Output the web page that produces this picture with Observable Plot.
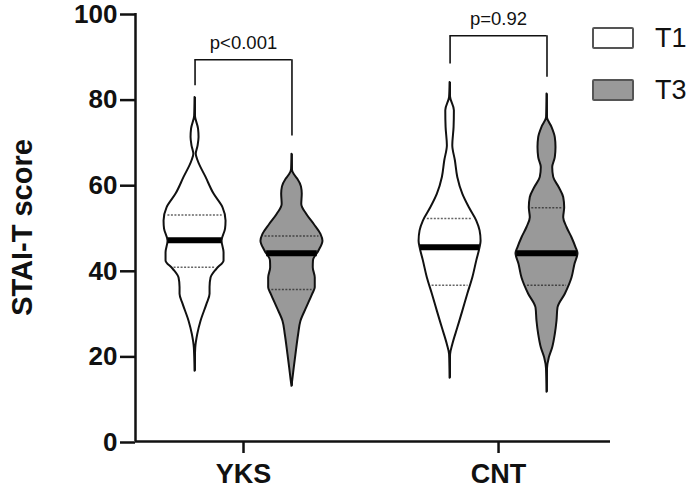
<!DOCTYPE html>
<html><head><meta charset="utf-8">
<script src="https://cdn.jsdelivr.net/npm/d3@7"></script>
<script src="https://cdn.jsdelivr.net/npm/@observablehq/plot@0.6"></script>
<style>
body{margin:0;background:#fff;font-family:"Liberation Sans",Arial,Helvetica,sans-serif;}
#wrap{position:relative;width:690px;height:489px;}
#wrap svg{overflow:visible;}
#legend{position:absolute;left:592px;top:27px;}
.item{display:flex;align-items:center;height:22px;margin-bottom:30px;}
.sw{width:38px;height:18px;border:2px solid #555;border-radius:2px;box-sizing:content-box;}
.lab{margin-left:21px;font-size:27px;color:#111;line-height:22px;}
</style></head><body><div id="wrap"></div>
<script>
// ---- data ----
const groups = ["YKS", "CNT"];
const times = ["T1", "T3"];
const timeFills = ["#ffffff", "#999999"];
const yTicks = [0, 20, 40, 60, 80, 100];

// violin outlines: score levels and half-width (relative density)
const yksT1Score   = [80.4, 76, 73, 71, 69, 67.1, 65.6, 61.7, 57.8, 54.6, 51.5, 49.6, 46.8, 44.1, 42.2, 40.3, 38.2, 36, 34.4, 32.1, 28.1, 25, 21.8, 16.4];
const yksT1Density = [0, 0.4, 3.5, 4, 3, 1.2, 3, 11, 19, 28, 31, 30.5, 27, 29, 29, 22, 16, 15, 15, 12, 6, 2.7, 0.7, 0];
const yksT3Score   = [67.1, 63.5, 62.3, 61.2, 59.5, 57.8, 55.4, 53.1, 50.7, 48.4, 46.8, 44.5, 42.2, 40.6, 38.2, 35.9, 34.4, 31.2, 28.1, 25, 20.3, 17.2, 14.1, 12.9];
const yksT3Density = [0, 0.4, 2.5, 6, 9.5, 10.3, 9.8, 14.7, 22.3, 29, 31, 27, 21.5, 21.3, 23.3, 23.3, 20.7, 14.7, 9, 6.7, 4, 2.3, 0.7, 0];
const cntT1Score   = [83.9, 80.4, 77.3, 73.4, 69.1, 65.6, 61.7, 57.8, 54.6, 51.5, 49.2, 46.8, 45.3, 42.2, 38.2, 34.4, 30.4, 26.5, 22.6, 20.3, 14.8];
const cntT1Density = [0, 0.5, 4.3, 4, 2.7, 5.3, 7.7, 12.7, 19.3, 26.7, 30, 31, 30, 26.7, 22.7, 17.7, 12.7, 7.7, 2.7, 0.5, 0];
const cntT3Score   = [81.2, 75.7, 73.4, 71, 68.7, 66.3, 64, 61.7, 59.3, 57, 54.6, 52.3, 50, 47.6, 45.3, 43.9, 41.4, 38.2, 34.4, 31.2, 28.1, 25, 21.9, 19.5, 17, 11.5];
const cntT3Density = [0, 0.4, 5, 8.3, 9, 8.3, 5.7, 6.7, 12.3, 16.7, 17.7, 16.7, 20, 25, 29, 31, 28, 25, 18.3, 11, 10, 8.3, 5.7, 2.3, 0.5, 0];

// summary statistics (YKS T1, YKS T3, CNT T1, CNT T3)
const medians = [47, 44, 45.4, 44];
const lowerQuartiles = [40.7, 35.5, 36.5, 36.5];
const upperQuartiles = [52.9, 48.0, 52.1, 54.6];

// significance brackets per group
const pLabels = ["p<0.001", "p=0.92"];
const bracketTop = [89.2, 94.8];
const bracketLegT1 = [83.1, 88.2];
const bracketLegT3 = [71.4, 85.1];

// ---- build ----
const xDomain = [0.5765, 2.439];
const plotWidthPx = 475;
const unit = (xDomain[1] - xDomain[0]) / plotWidthPx; // x units per pixel of density
const offset = 0.19;
const center = (g, t) => (g + 1) + (t === 0 ? -offset : offset);

const profiles = [
  [yksT1Score, yksT1Density], [yksT3Score, yksT3Density],
  [cntT1Score, cntT1Density], [cntT3Score, cntT3Density]
];
const violins = profiles.map(([s, d], i) => {
  const g = Math.floor(i / 2), t = i % 2;
  const pts = s.map((y, k) => ({y, w: d[k]})).sort((a, b) => a.y - b.y);
  return {id: i, g, t, cx: center(g, t), pts,
    min: d3.min(s), max: d3.max(s),
    med: medians[i], q1: lowerQuartiles[i], q3: upperQuartiles[i]};
});
function widthAt(v, y) {
  const p = v.pts;
  for (let k = 0; k < p.length - 1; k++) {
    if (y >= p[k].y && y <= p[k + 1].y) {
      const f = (y - p[k].y) / (p[k + 1].y - p[k].y);
      return p[k].w + f * (p[k + 1].w - p[k].w);
    }
  }
  return 0;
}
const areaRows = violins.flatMap(v => v.pts.map(p => ({
  id: v.id, t: v.t, y: p.y, x1: v.cx - p.w * unit, x2: v.cx + p.w * unit
})));
const lineRows = violins.flatMap(v => [
  {kind: "med", t: v.t, y: v.med, x1: v.cx - (widthAt(v, v.med) - 0.5) * unit, x2: v.cx + (widthAt(v, v.med) - 0.5) * unit},
  {kind: "q", t: v.t, y: v.q1, x1: v.cx - (widthAt(v, v.q1) - 2.5) * unit, x2: v.cx + (widthAt(v, v.q1) - 2.5) * unit},
  {kind: "q", t: v.t, y: v.q3, x1: v.cx - (widthAt(v, v.q3) - 2.5) * unit, x2: v.cx + (widthAt(v, v.q3) - 2.5) * unit}
]);
const brackets = groups.map((name, g) => ({
  g, label: pLabels[g], top: bracketTop[g], l1: bracketLegT1[g], l3: bracketLegT3[g],
  xa: center(g, 0), xb: center(g, 1), xm: g + 1
}));

const chart = Plot.plot({
  width: 690, height: 489,
  marginLeft: 135, marginRight: 80, marginTop: 13, marginBottom: 48,
  style: {fontFamily: "'Liberation Sans', Arial, Helvetica, sans-serif", background: "#fff", color: "#111", overflow: "visible"},
  x: {type: "linear", domain: xDomain, axis: null},
  y: {domain: [0, 100], axis: null},
  marks: [
    Plot.ruleY([0], {strokeWidth: 2.5, stroke: "#111"}),
    Plot.ruleX([xDomain[0]], {y1: 0, y2: 100, strokeWidth: 2.5, stroke: "#111"}),
    Plot.axisY(yTicks, {tickSize: 15, tickPadding: 3, fontSize: 26, fontWeight: "bold", strokeWidth: 2.5, label: null, dy: 1}),
    Plot.axisX([1, 2], {tickFormat: d => groups[d - 1], tickSize: 12, tickPadding: 10, fontSize: 27, fontWeight: "bold", strokeWidth: 2.5, label: null}),
    Plot.text(["STAI-T score"], {frameAnchor: "left", textAnchor: "middle", rotate: -90, dx: -113, fontSize: 29, fontWeight: "bold", fill: "#111"}),
    // tails
    Plot.ruleX(violins, {x: "cx", y1: "min", y2: "max", strokeWidth: 1.8, stroke: "#111"}),
    // violins
    Plot.areaX(areaRows, {y: "y", x1: "x1", x2: "x2", z: "id", fill: d => timeFills[d.t], stroke: "#111", strokeWidth: 2, curve: "monotone-y"}),
    // quartiles
    Plot.ruleY(lineRows.filter(d => d.kind === "q"), {y: "y", x1: "x1", x2: "x2", stroke: d => d.t === 0 ? "#666" : "#444", strokeWidth: 1.5, strokeDasharray: "2,1.5"}),
    // medians
    Plot.ruleY(lineRows.filter(d => d.kind === "med"), {y: "y", x1: "x1", x2: "x2", stroke: "#000", strokeWidth: 6}),
    // brackets
    Plot.ruleY(brackets, {y: "top", x1: "xa", x2: "xb", stroke: "#111", strokeWidth: 1.6}),
    Plot.ruleX(brackets, {x: "xa", y1: "l1", y2: "top", stroke: "#111", strokeWidth: 1.6}),
    Plot.ruleX(brackets, {x: "xb", y1: "l3", y2: "top", stroke: "#111", strokeWidth: 1.6}),
    Plot.text(brackets, {x: "xm", y: "top", text: "label", dy: -17, fontSize: 18.5, fill: "#111"})
  ]
});
const wrap = document.getElementById("wrap");
wrap.appendChild(chart);
const legend = document.createElement("div");
legend.id = "legend";
times.forEach((t, i) => {
  const item = document.createElement("div");
  item.className = "item";
  const sw = document.createElement("div");
  sw.className = "sw"; sw.style.background = timeFills[i];
  const lab = document.createElement("span");
  lab.className = "lab"; lab.textContent = t;
  item.appendChild(sw); item.appendChild(lab);
  legend.appendChild(item);
});
wrap.appendChild(legend);
</script></body></html>
